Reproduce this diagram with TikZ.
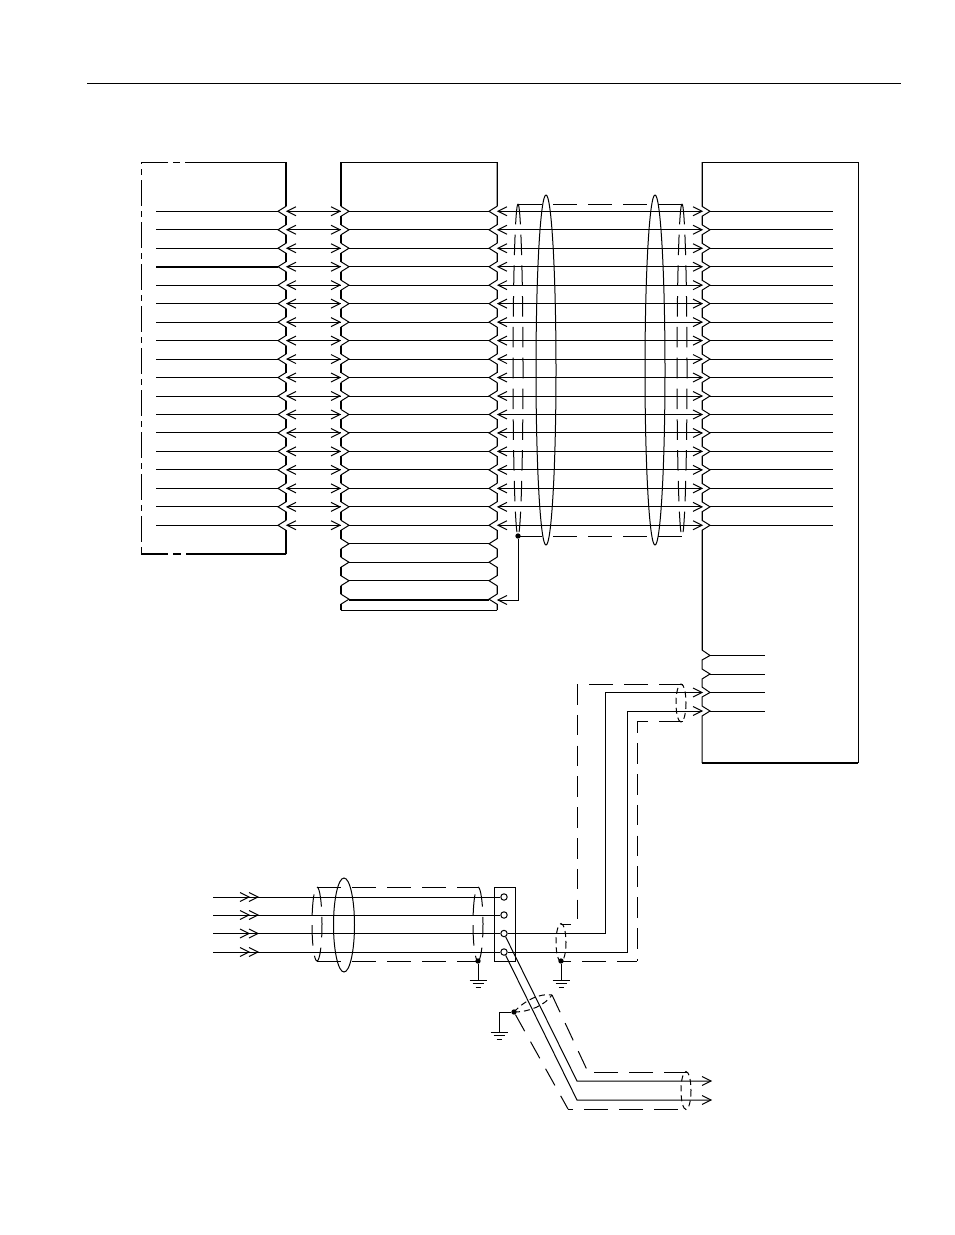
\documentclass[tikz,border=0pt]{standalone}
\newcommand\wallzig[6]{%
\draw[thin line] (#1,#3) \foreach \i in {0,...,#4}{ -- (#1,{211.3+18.47*\i-5}) -- ({#1+#2},{211.3+18.47*\i}) -- (#1,{211.3+18.47*\i+5}) } -- (#1,#5);
\draw[#6] (#1,#3) -- (#1,206.3);
\foreach \i in {0,...,#4}{\draw[#6] (#1,{211.3+18.47*\i+5}) -- (#1,{min(211.3+18.47*\i+13.47,#5)});}
\draw[#6] (#1,{211.3+18.47*#4+5}) -- (#1,#5);}
\newcommand\openhead[3]{\draw[thin line,shift={(#2,#3)},x=#1*0.75pt] (1,-4.5) -- (0,0) -- (1,4.5);}
\newcommand\gnd[2]{\draw[thin line,shift={(#1,#2)}] (-8.5,0) -- (8.5,0) (-5.5,3.5) -- (5.5,3.5) (-2.5,7) -- (2.5,7);}
\begin{document}
\begin{tikzpicture}[x=0.75pt,y=-0.75pt,
  thin line/.style={line width=0.75pt,black},
  bold line/.style={line width=1.6pt,black},
  shield/.style={line width=0.75pt,dash pattern=on 18pt off 8.25pt},
  vshield/.style={line width=0.75pt,dash pattern=on 15.4pt off 7.7pt},
  fine shield/.style={line width=0.75pt,dash pattern=on 4.5pt off 3pt},
  terminal/.style={circle,draw,fill=white,line width=0.75pt,inner sep=0pt,minimum size=4.8pt},
  junction/.style={circle,fill=black,inner sep=0pt,minimum size=4pt}]
\useasboundingbox (0,0) rectangle (954,1235);
\fill[white] (0,0) rectangle (954,1235);
\draw[thin line] (87,83) -- (901,83);
% left box outline
\draw[thin line] (168,162) -- (141,162) (173,162) -- (180,162) (185,162) -- (286,162);
\draw[thin line,dash pattern=on 19.5pt off 3.75pt on 4.5pt off 3.75pt,dash phase=18pt] (141,162) -- (141,554);
\draw[bold line] (141,554) -- (168,554) (173,554) -- (181,554) (186,554) -- (286,554);
\wallzig{286}{-8}{162}{17}{554}{bold line}
% middle box
\draw[thin line] (341,162) -- (497,162) (341,610) -- (497,610);
\wallzig{341}{8}{162}{21}{610}{bold line}
\wallzig{497}{-8}{162}{21}{610}{thin line}
% right box
\draw[thin line] (702,162) -- (858,162) -- (858,763);
\draw[bold line] (702,763) -- (858,763);
\wallzig{702}{8}{162}{17}{650}{thin line}
\draw[thin line] (702,650) -- (710,655.5) -- (702,660) -- (702,669) -- (710,674) -- (702,679) -- (702,687) -- (710,692.5) -- (702,697) -- (702,706) -- (710,711) -- (702,716) -- (702,763);
% wires
\foreach \i in {0,...,17}{
  \pgfmathsetmacro\ry{211.3+18.47*\i}
  \draw[thin line] (156,\ry) -- (278,\ry);
  \draw[thin line] (287,\ry) -- (341,\ry);
  \draw[thin line] (349,\ry) -- (489,\ry);
  \draw[thin line] (498,\ry) -- (702,\ry);
  \draw[thin line] (710,\ry) -- (833,\ry);
  \openhead{9}{287}{\ry}
  \openhead{-9}{340}{\ry}
  \openhead{9}{498}{\ry}
  \openhead{-9}{702}{\ry}
}
\draw[bold line] (156,267) -- (278,267);
\foreach \i in {18,...,20}{
  \draw[thin line] (349,{211.3+18.47*\i}) -- (489,{211.3+18.47*\i});
}
\draw[bold line] (349,600) -- (489,600);
% upper shield
\coordinate (ua) at (518,204);
\coordinate (ub) at (682,204);
\coordinate (uc) at (518,536);
\coordinate (ud) at (682,536);
\draw[shield] (ua) -- (ub);
\draw[shield] (uc) -- (ud);
\foreach \cx in {518,682}{
  \draw[vshield] (\cx,204) arc[start angle=-90,end angle=90,x radius=5,y radius=166];
  \draw[vshield] (\cx,204) arc[start angle=-90,end angle=-270,x radius=5,y radius=166];
}
\draw[thin line] (546,370) ellipse[x radius=10,y radius=175];
\draw[thin line] (655,370) ellipse[x radius=10,y radius=175];
\node[junction] (ju) at (518,536) {};
\coordinate (jv) at (498,600);
\draw[thin line] (ju) |- (jv);
\openhead{9}{498}{600}
% lower right wires
\draw[thin line] (710,655.5) -- (765,655.5) (710,674) -- (765,674) (710,692.5) -- (765,692.5) (710,711) -- (765,711);
% terminal strip
\draw[thin line] (494,887) rectangle (515,961);
\node[terminal] (t1) at (504,897) {};
\node[terminal] (t2) at (504,915) {};
\node[terminal] (t3) at (504,933.5) {};
\node[terminal] (t4) at (504,952) {};
\foreach \n/\yy in {t1/897,t2/915,t3/933.5,t4/952}{
  \coordinate (s) at (213,\yy);
  \draw[thin line] (s) -- (\n);
  \openhead{-9}{249}{\yy}
  \openhead{-9}{258}{\yy}
}
% wires to right box
\coordinate (ra) at (702,692.5);
\coordinate (rb) at (702,711);
\draw[thin line] (t3) -- (605,933.5) -- (605,692.5) -- (ra);
\draw[thin line] (t4) -- (627,952) -- (627,711) -- (rb);
\openhead{-9}{702}{692.5}
\openhead{-9}{702}{711}
% bottom shield on left
\draw[shield] (317,887) -- (478,887);
\draw[shield] (317,961) -- (478,961);
\draw[vshield] (317,887) arc[start angle=-90,end angle=90,x radius=5,y radius=37];
\draw[vshield,dash phase=16.9pt] (317,887) arc[start angle=-90,end angle=-270,x radius=5,y radius=37];
\draw[vshield] (478,887) arc[start angle=-90,end angle=90,x radius=5,y radius=37];
\draw[vshield,dash phase=16.9pt] (478,887) arc[start angle=-90,end angle=-270,x radius=5,y radius=37];
\draw[thin line] (344,925) ellipse[x radius=10.5,y radius=47];
% grounds
\node[junction] (g1) at (478,961) {};
\coordinate (g1b) at (478,980);
\draw[thin line] (g1) -- (g1b);
\gnd{478}{980}
\node[junction] (g2) at (561,961) {};
\coordinate (g2b) at (561,980);
\draw[thin line] (g2) -- (g2b);
\gnd{561}{980}
\node[junction] (g3) at (514,1012) {};
\coordinate (g3b) at (499,1032);
\draw[thin line] (g3) -| (g3b);
\gnd{499}{1032}
% shield of wires to right box
\draw[shield] (683,684) -- (589,684);
\draw[vshield] (577,684) -- (577,919);
\draw[thin line] (571,924) -- (561,924);
\draw[shield] (683,721) -- (637,721);
\draw[vshield,dash phase=6.4pt] (637,721) -- (637,961);
\draw[shield,dash phase=3pt] (637,961) -- (561,961);
\draw[fine shield] (681,703) ellipse[x radius=5,y radius=19];
\draw[fine shield] (561,942.5) ellipse[x radius=5,y radius=19];
% diagonal pair
\draw[thin line] (t3) -- (577,1081) -- (711,1081);
\draw[thin line] (t4) -- (577,1100) -- (711,1100);
\openhead{-9}{711}{1081}
\openhead{-9}{711}{1100}
\draw[line width=0.75pt,dash pattern=on 14.25pt off 9pt] (552,995) -- (588,1072);
\draw[shield] (688,1072) -- (588,1072);
\draw[line width=0.75pt,dash pattern=on 14.25pt off 9pt] (g3) -- (568,1109);
\draw[shield] (678,1109) -- (568,1109);
\draw[fine shield] (686,1090.5) ellipse[x radius=5,y radius=19];
\draw[fine shield] (514,1012) .. controls (525,1000) and (540,993) .. (552,995);
\draw[fine shield] (514,1012) .. controls (530,1012) and (545,1005) .. (552,995);
\end{tikzpicture}
\end{document}
